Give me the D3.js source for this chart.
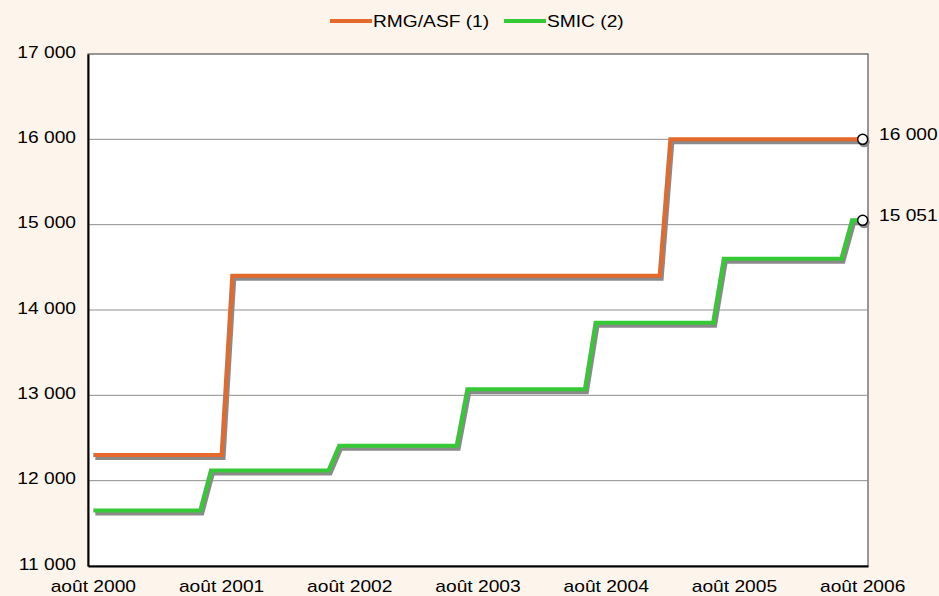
<!DOCTYPE html>
<html>
<head>
<meta charset="utf-8">
<script src="https://cdn.jsdelivr.net/npm/d3@7"></script>
<style>
  body { margin: 0; background: #fdf5ec; }
  svg text { font-family: "Liberation Sans", Arial, sans-serif; font-size: 16px; fill: #000; }
</style>
</head>
<body>
<svg width="939" height="596"></svg>
<script>
// monthly categories, août 2000 -> août 2006
var months = [
  "août 2000","sept. 2000","oct. 2000","nov. 2000","déc. 2000",
  "janv. 2001","févr. 2001","mars 2001","avr. 2001","mai 2001","juin 2001","juil. 2001","août 2001","sept. 2001","oct. 2001","nov. 2001","déc. 2001",
  "janv. 2002","févr. 2002","mars 2002","avr. 2002","mai 2002","juin 2002","juil. 2002","août 2002","sept. 2002","oct. 2002","nov. 2002","déc. 2002",
  "janv. 2003","févr. 2003","mars 2003","avr. 2003","mai 2003","juin 2003","juil. 2003","août 2003","sept. 2003","oct. 2003","nov. 2003","déc. 2003",
  "janv. 2004","févr. 2004","mars 2004","avr. 2004","mai 2004","juin 2004","juil. 2004","août 2004","sept. 2004","oct. 2004","nov. 2004","déc. 2004",
  "janv. 2005","févr. 2005","mars 2005","avr. 2005","mai 2005","juin 2005","juil. 2005","août 2005","sept. 2005","oct. 2005","nov. 2005","déc. 2005",
  "janv. 2006","févr. 2006","mars 2006","avr. 2006","mai 2006","juin 2006","juil. 2006","août 2006"
];

var rmg = [
  12300,12300,12300,12300,12300,
  12300,12300,12300,12300,12300,12300,12300,12300,14400,14400,14400,14400,
  14400,14400,14400,14400,14400,14400,14400,14400,14400,14400,14400,14400,
  14400,14400,14400,14400,14400,14400,14400,14400,14400,14400,14400,14400,
  14400,14400,14400,14400,14400,14400,14400,14400,14400,14400,14400,14400,
  14400,16000,16000,16000,16000,16000,16000,16000,16000,16000,16000,16000,
  16000,16000,16000,16000,16000,16000,16000,16000
];

var smic = [
  11650,11650,11650,11650,11650,
  11650,11650,11650,11650,11650,11650,12120,12120,12120,12120,12120,12120,
  12120,12120,12120,12120,12120,12120,12410,12410,12410,12410,12410,12410,
  12410,12410,12410,12410,12410,12410,13070,13070,13070,13070,13070,13070,
  13070,13070,13070,13070,13070,13070,13850,13850,13850,13850,13850,13850,
  13850,13850,13850,13850,13850,13850,14600,14600,14600,14600,14600,14600,
  14600,14600,14600,14600,14600,14600,15051,15051
];

var xTickLabels = ["août 2000","août 2001","août 2002","août 2003","août 2004","août 2005","août 2006"];
var yTicks = [11000, 12000, 13000, 14000, 15000, 16000, 17000];
var seriesNames = ["RMG/ASF (1)", "SMIC (2)"];
var seriesColors = ["#e4692a", "#35c935"];

var svg = d3.select("svg");
var plotL = 88, plotR = 868, plotT = 54, plotB = 566;
var stretch = "scale(1.2,1)";   // text in the original is drawn wider than normal

var fr = d3.formatLocale({decimal: ",", thousands: " ", grouping: [3], currency: ["", ""]});
var fmt = fr.format(",d");

var x = d3.scaleBand().domain(months).range([plotL, plotR]);
var y = d3.scaleLinear().domain([11000, 17000]).range([plotB, plotT]);
var xc = function(m) { return x(m) + x.bandwidth() / 2; };

// plot area
svg.append("rect")
    .attr("x", plotL).attr("y", plotT)
    .attr("width", plotR - plotL).attr("height", plotB - plotT)
    .attr("fill", "#fff").attr("stroke", "#333").attr("stroke-width", 1);

// gridlines
svg.append("g").selectAll("line")
    .data(yTicks.slice(1, -1))
    .enter().append("line")
      .attr("x1", plotL).attr("x2", plotR)
      .attr("y1", function(d) { return y(d); })
      .attr("y2", function(d) { return y(d); })
      .attr("stroke", "#8f8f8f").attr("stroke-width", 1);

// axes
var yAxis = svg.append("g")
    .attr("transform", "translate(" + plotL + ",0)")
    .call(d3.axisLeft(y).tickValues(yTicks).tickSize(0).tickPadding(10).tickFormat(fmt));
yAxis.select(".domain").attr("stroke", "#000").attr("stroke-width", 2);
yAxis.selectAll("text")
    .attr("dy", "0.2em")
    .attr("transform", stretch)
    .style("font-size", "16px").style("font-family", "'Liberation Sans', Arial, sans-serif");

var xAxis = svg.append("g")
    .attr("transform", "translate(0," + plotB + ")")
    .call(d3.axisBottom(x).tickValues(xTickLabels).tickSize(0).tickPadding(15));
xAxis.select(".domain").attr("stroke", "#000").attr("stroke-width", 2);
xAxis.selectAll("text")
    .attr("transform", stretch)
    .style("font-size", "16px").style("font-family", "'Liberation Sans', Arial, sans-serif");

// lines with drop shadow
var series = [rmg, smic];
var line = d3.line()
    .x(function(d, i) { return xc(months[i]); })
    .y(function(d) { return y(d); });

series.forEach(function(vals, k) {
    svg.append("path")
        .attr("d", line(vals))
        .attr("transform", "translate(2,3)")
        .attr("fill", "none").attr("stroke", "#8a8a8a")
        .attr("stroke-width", 4).attr("stroke-linejoin", "miter");
});
series.forEach(function(vals, k) {
    svg.append("path")
        .attr("d", line(vals))
        .attr("fill", "none").attr("stroke", seriesColors[k])
        .attr("stroke-width", 4).attr("stroke-linejoin", "miter");
});

// end markers + labels
var last = months[months.length - 1];
series.forEach(function(vals, k) {
    var v = vals[vals.length - 1];
    svg.append("circle")
        .attr("cx", xc(last) + 1.5).attr("cy", y(v) + 2.5).attr("r", 5.5)
        .attr("fill", "#8a8a8a");
    svg.append("circle")
        .attr("cx", xc(last)).attr("cy", y(v)).attr("r", 5)
        .attr("fill", "#fff").attr("stroke", "#000").attr("stroke-width", 1.5);
    svg.append("text")
        .attr("transform", "translate(" + 879 + "," + (y(v) + 1) + ") " + stretch)
        .text(fmt(v));
});

// legend
var legendX = [330, 504];
seriesNames.forEach(function(name, k) {
    svg.append("line")
        .attr("x1", legendX[k]).attr("x2", legendX[k] + 42)
        .attr("y1", 21).attr("y2", 21)
        .attr("stroke", seriesColors[k]).attr("stroke-width", 4);
    svg.append("text")
        .attr("transform", "translate(" + (legendX[k] + 43) + ",27) " + stretch)
        .text(name);
});
</script>
</body>
</html>
